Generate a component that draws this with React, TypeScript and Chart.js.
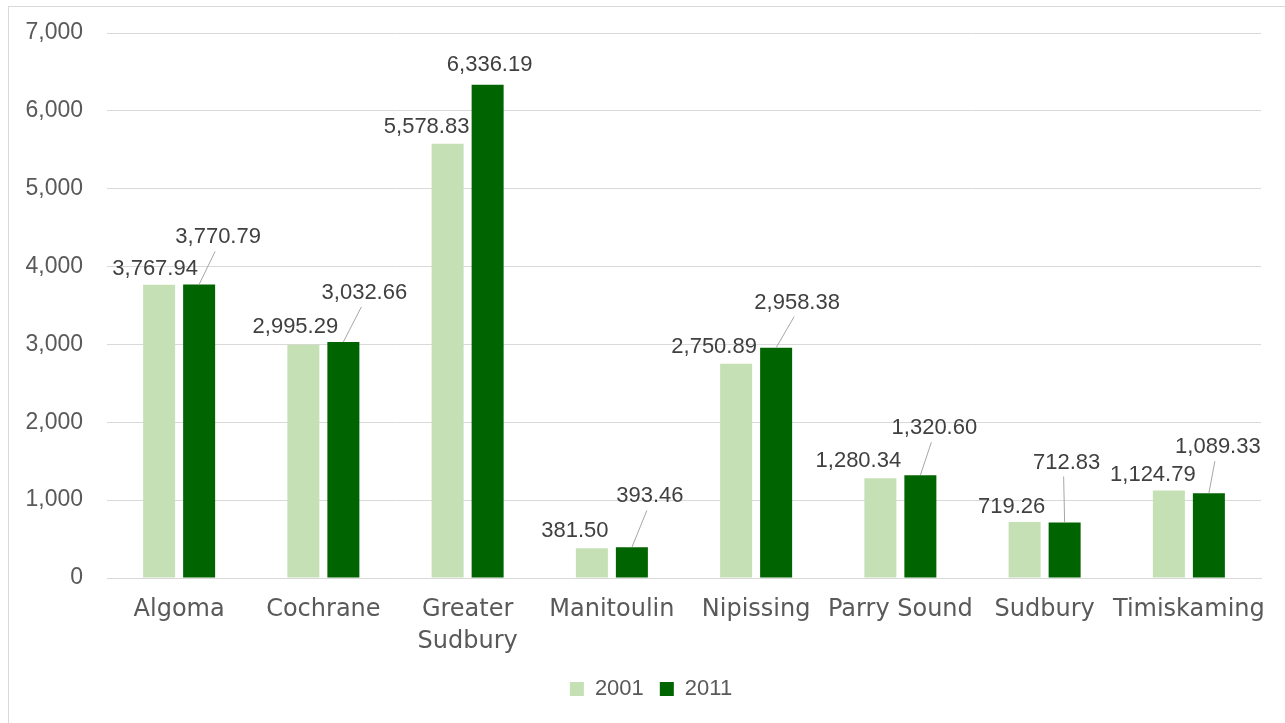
import React, { useEffect, useRef } from "react";
import { Chart, registerables } from "chart.js";

Chart.register(...registerables);

// ---- data ----
const categoryLabels: (string | string[])[] = [
  "Algoma",
  "Cochrane",
  ["Greater", "Sudbury"],
  "Manitoulin",
  "Nipissing",
  "Parry Sound",
  "Sudbury",
  "Timiskaming",
];
const seriesNames = ["2001", "2011"];
const values2001 = [3767.94, 2995.29, 5578.83, 381.5, 2750.89, 1280.34, 719.26, 1124.79];
const values2011 = [3770.79, 3032.66, 6336.19, 393.46, 2958.38, 1320.6, 712.83, 1089.33];
const yMin = 0;
const yMax = 7000;
const yStep = 1000;

// ---- label placement (offset of label centre from bar top centre, px) ----
const labelOffsets2001: [number, number][] = [
  [-4, -18], [-8, -20], [-21, -19], [-17, -19], [-22, -19], [-22, -19], [-13, -17], [-16, -17],
];
const labelOffsets2011: [number, number][] = [
  [19, -49], [21, -51], [2, -22], [18, -53], [21, -47], [14, -49], [2, -62], [9, -48],
];
const legendShiftX = 16;

const fmt2 = (v: number) =>
  v.toLocaleString("en-US", { minimumFractionDigits: 2, maximumFractionDigits: 2 });

const dataLabelPlugin = {
  id: "dataLabelPlugin",
  afterLayout(chart: any) {
    if (chart.legend) {
      chart.legend.left += legendShiftX;
      chart.legend.right += legendShiftX;
    }
  },
  afterDatasetsDraw(chart: any) {
    const ctx = chart.ctx;
    const offsets = [labelOffsets2001, labelOffsets2011];
    ctx.save();
    ctx.font = "22px 'Liberation Sans'";
    ctx.textAlign = "center";
    ctx.textBaseline = "alphabetic";
    chart.data.datasets.forEach((ds: any, di: number) => {
      const meta = chart.getDatasetMeta(di);
      meta.data.forEach((el: any, i: number) => {
        const { x, y } = el.getProps(["x", "y"], true);
        const [dx, dy] = offsets[di][i];
        const lx = x + dx;
        const ly = y + dy;
        if (dy < -35) {
          ctx.strokeStyle = "#a6a6a6";
          ctx.lineWidth = 1;
          ctx.beginPath();
          ctx.moveTo(x, y);
          ctx.lineTo(lx - 3, ly + 16);
          ctx.stroke();
        }
        ctx.fillStyle = "#404040";
        ctx.fillText(fmt2(ds.data[i]), lx, ly + 8);
      });
    });
    ctx.restore();
  },
};

export default function App() {
  const ref = useRef<HTMLCanvasElement | null>(null);
  useEffect(() => {
    if (!ref.current) return;
    const chart = new Chart(ref.current, {
      type: "bar",
      data: {
        labels: categoryLabels as any,
        datasets: [
          {
            label: seriesNames[0],
            data: values2001,
            backgroundColor: "#c5e0b4",
            categoryPercentage: 0.5546,
            barPercentage: 0.8,
          },
          {
            label: seriesNames[1],
            data: values2011,
            backgroundColor: "#006400",
            categoryPercentage: 0.5546,
            barPercentage: 0.8,
          },
        ],
      },
      options: {
        responsive: false,
        animation: false,
        layout: { padding: { left: 0, right: 24, top: 26, bottom: 13 } },
        plugins: {
          legend: {
            position: "bottom",
            labels: {
              boxWidth: 14,
              boxHeight: 14,
              padding: 16,
              color: "#595959",
              font: { family: "'Liberation Sans'", size: 22 },
            },
          },
          tooltip: { enabled: false },
        },
        scales: {
          x: {
            grid: { display: false, drawTicks: false },
            border: { color: "#d9d9d9" },
            ticks: {
              color: "#595959",
              font: { family: "'DejaVu Sans'", size: 24, lineHeight: 1.33 },
              padding: 16,
              maxRotation: 0,
              autoSkip: false,
            },
            afterFit: (s: any) => {
              s.height = 84;
            },
          },
          y: {
            min: yMin,
            max: yMax,
            ticks: {
              stepSize: yStep,
              padding: 0,
              color: "#595959",
              font: { family: "'Liberation Sans'", size: 23 },
              callback: (v: any) => Number(v).toLocaleString("en-US"),
            },
            grid: {
              color: "#d9d9d9",
              drawTicks: true,
              tickLength: 24,
              tickColor: "rgba(0,0,0,0)",
            },
            border: { display: false },
            afterFit: (s: any) => {
              s.width = 98;
            },
          },
        },
      },
      plugins: [dataLabelPlugin],
    });
    return () => chart.destroy();
  }, []);

  return (
    <div
      style={{
        position: "fixed",
        left: 8,
        top: 6,
        width: 1290,
        height: 730,
        border: "1px solid #d9d9d9",
        background: "#fff",
      }}
    >
      <canvas ref={ref} width={1276} height={716} style={{ display: "block" }} />
    </div>
  );
}
